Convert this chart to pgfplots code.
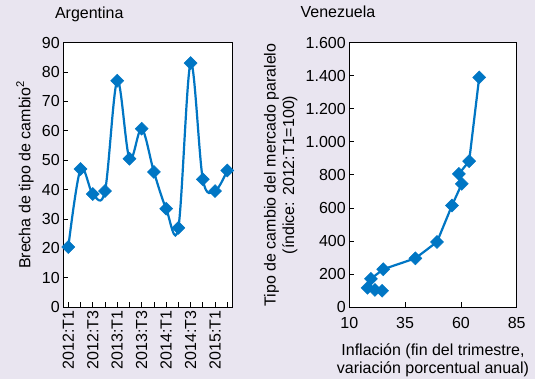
\documentclass[border=0pt]{standalone}
\usepackage{pgfplots}
\pgfplotsset{compat=1.18}
\usepackage{fontspec}
\setmainfont{Liberation Sans}
\definecolor{bg}{RGB}{233,229,240}
\definecolor{imfblue}{RGB}{0,118,196}
\pgfplotsset{
  every axis/.append style={
    font=\fontsize{16}{18.5}\selectfont,
    scale only axis,
    anchor=south west,
    tick align=inside,
    major tick length=5pt,
    xtick pos=bottom, ytick pos=left,
    axis background/.style={fill=white},
    axis line style={line width=1pt},
    every tick/.style={black, line width=0.8pt},
    /pgf/number format/assume math mode=true,
    scaled ticks=false,
  },
}
\begin{document}
\begin{tikzpicture}[x=1pt,y=1pt]
\fill[bg] (0,0) rectangle (535,379);
\useasboundingbox (0,0) rectangle (535,379);
\begin{axis}[
  at={(63.3pt,71.7pt)}, width=169pt, height=264.8pt,
  xmin=-0.41, xmax=13.41, ymin=0, ymax=90,
  ytick={0,10,...,90},
  xtick={0,...,13},
  xticklabels={2012:T1,,2012:T3,,2013:T1,,2013:T3,,2014:T1,,2014:T3,,2015:T1,},
  x tick label style={rotate=90, anchor=east},
  ylabel={Brecha de tipo de cambio\textsuperscript{2}},
  ylabel style={at={(axis description cs:-0.227,0.5)}, anchor=center},
  title={Argentina},
  title style={at={(axis description cs:-0.07,1.067)}, anchor=base west},
]
\addplot[imfblue, line width=2.2pt, smooth, tension=0.55, mark=square*,
  mark size=4.6pt, mark options={rotate=45, solid, fill=imfblue, draw=imfblue, line width=0.5pt}]
  coordinates {
  (0,20.5) (1,47) (2,38.5) (3,39.5) (4,77) (5,50.5) (6,60.7)
  (7,46) (8,33.5) (9,27) (10,83) (11,43.5) (12,39.5) (13,46.5)
  };
\end{axis}
\begin{axis}[
  at={(349.3pt,71.7pt)}, width=167.4pt, height=264.8pt,
  xmin=10, xmax=85, ymin=0, ymax=1600,
  xtick={10,35,60,85},
  ytick={0,200,...,1600},
  x tick label style={yshift=-6pt},
  /pgf/number format/.cd, 1000 sep={.}, /pgfplots/.cd,
  ylabel={Tipo de cambio del mercado paralelo\\(índice: 2012:T1=100)},
  ylabel style={at={(axis description cs:-0.41,0.5)}, anchor=center, align=center},
  xlabel={Inflación (fin del trimestre,\\variación porcentual anual)},
  xlabel style={at={(axis description cs:0.5,0)}, yshift=-53pt, anchor=center, align=center},
  title={Venezuela},
  title style={at={(axis description cs:-0.312,1.071)}, anchor=base west},
]
\addplot[imfblue, line width=2.2pt, mark=square*,
  mark size=4.6pt, mark options={rotate=45, solid, fill=imfblue, draw=imfblue, line width=0.5pt}]
  coordinates {
  (24.7,100) (21.5,105) (18.2,118) (19.7,172) (25.2,230) (39.6,296)
  (49.3,395) (56,615) (60.4,746) (59.1,806) (63.7,883) (68.2,1389)
  };
\end{axis}
\end{tikzpicture}
\end{document}
